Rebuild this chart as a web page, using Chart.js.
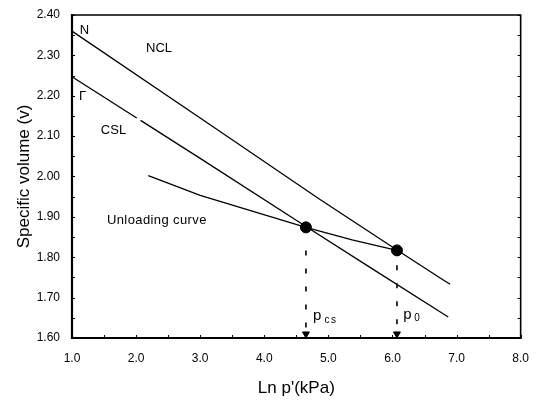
<!DOCTYPE html>
<html>
<head>
<meta charset="utf-8">
<script src="https://cdn.jsdelivr.net/npm/chart.js@4.4.1/dist/chart.umd.min.js"></script>
<style>
html,body{margin:0;padding:0;background:#fff;}
#wrap{width:542px;height:401px;}
</style>
</head>
<body>
<div id="wrap"><canvas id="c" width="542" height="401"></canvas></div>
<script>
// ---- data ----
const nclLnP = [1.0, 3.0, 4.87, 6.07, 6.75, 6.9];
const nclV   = [2.36, 2.145, 1.943, 1.818, 1.748, 1.733];
const cslLnP = [1.0, 2.01, null, 2.07, 3.0, 4.65, 5.65, 6.87];
const cslV   = [2.247, 2.145, null, 2.139, 2.045, 1.876, 1.775, 1.652];
const unlLnP = [2.19, 3.0, 4.65, 5.37, 6.07];
const unlV   = [2.002, 1.953, 1.874, 1.843, 1.817];
const stateLnP = [4.65, 6.07];          // p_cs, p_0
const stateV   = [1.874, 1.817];
const dropTopV = [1.817, 1.780];        // where the dotted drop lines begin
const xTicks = [1.0, 2.0, 3.0, 4.0, 5.0, 6.0, 7.0, 8.0];
const yTicks = [1.60, 1.70, 1.80, 1.90, 2.00, 2.10, 2.20, 2.30, 2.40];
const xTitle = "Ln p'(kPa)";
const yTitle = "Specific volume (v)";

function pts(xs, ys){ return xs.map((x,i)=> x===null ? {x:null,y:null} : {x:x, y:ys[i]}); }
const FONT = "'Liberation Sans', Arial, sans-serif";

const dropLines = [];
stateLnP.forEach((x,i)=>{
  dropLines.push({
    data:[{x:x,y:dropTopV[i]},{x:x,y:1.612}],
    showLine:true, borderColor:'#000', borderWidth:1.6, borderDash:[5,13],
    pointRadius:0, fill:false, order:3
  });
});
const arrowHeads = {
  data: stateLnP.map(x=>({x:x,y:1.610})),
  showLine:false, pointStyle:'triangle', rotation:180, pointRadius:4,
  backgroundColor:'#000', borderColor:'#000', borderWidth:1, order:2
};

const labelsPlugin = {
  id:'labels',
  afterDatasetsDraw(chart){
    const ctx = chart.ctx, xs = chart.scales.x, ys = chart.scales.y;
    const put = (t, x, y, size, sp) => {
      ctx.font = size + 'px ' + FONT;
      ctx.letterSpacing = (sp || 0) + 'px';
      ctx.fillText(t, xs.getPixelForValue(x), ys.getPixelForValue(y));
    };
    ctx.save();
    ctx.fillStyle = '#000'; ctx.textAlign = 'left'; ctx.textBaseline = 'middle';
    put('N', 1.12, 2.363, 13);
    put('NCL', 2.155, 2.316, 13);
    put('\u0393', 1.11, 2.198, 13);
    put('CSL', 1.45, 2.114, 13);
    put('Unloading curve', 1.545, 1.891, 13, 0.4);
    put('p', 4.76, 1.655, 15);
    put('cs', 4.94, 1.644, 10, 1.5);
    put('p', 6.17, 1.657, 15);
    put('0', 6.34, 1.648, 10);
    ctx.restore();
  }
};

const framePlugin = {
  id:'frame',
  afterDraw(chart){
    const ctx = chart.ctx, a = chart.chartArea, xs = chart.scales.x, ys = chart.scales.y;
    ctx.save();
    ctx.strokeStyle = '#000';
    ctx.lineWidth = 1;
    for (let v = 1.6; v <= 2.4001; v += 0.05) {
      const py = Math.round(ys.getPixelForValue(v)) + 0.5;
      ctx.beginPath(); ctx.moveTo(a.left, py); ctx.lineTo(a.left + 3, py); ctx.stroke();
      ctx.beginPath(); ctx.moveTo(a.right, py); ctx.lineTo(a.right - 3, py); ctx.stroke();
    }
    for (let v = 1.0; v <= 8.0001; v += 0.5) {
      const px = Math.round(xs.getPixelForValue(v)) + 0.5;
      ctx.beginPath(); ctx.moveTo(px, a.bottom); ctx.lineTo(px, a.bottom - 3); ctx.stroke();
    }
    ctx.lineWidth = 1.6;
    ctx.beginPath();
    ctx.moveTo(a.left, a.top); ctx.lineTo(a.right, a.top); ctx.lineTo(a.right, a.bottom);
    ctx.stroke();
    ctx.lineWidth = 2.2;
    ctx.beginPath();
    ctx.moveTo(a.left, a.top - 1); ctx.lineTo(a.left, a.bottom); ctx.lineTo(a.right + 1, a.bottom);
    ctx.stroke();
    ctx.restore();
  }
};

new Chart(document.getElementById('c'), {
  type:'scatter',
  data:{
    datasets:[
      {label:'NCL', data:pts(nclLnP,nclV), showLine:true, borderColor:'#000', borderWidth:1.3, pointRadius:0, spanGaps:false, order:4},
      {label:'CSL', data:pts(cslLnP,cslV), showLine:true, borderColor:'#000', borderWidth:1.3, pointRadius:0, spanGaps:false, order:4},
      {label:'Unloading curve', data:pts(unlLnP,unlV), showLine:true, borderColor:'#000', borderWidth:1.3, pointRadius:0, order:4},
      ...dropLines,
      arrowHeads,
      {label:'state', data:pts(stateLnP,stateV), showLine:false, pointRadius:5.5, pointStyle:'circle', backgroundColor:'#000', borderColor:'#000', order:1}
    ]
  },
  options:{
    responsive:false, animation:false,
    layout:{padding:{left:0, right:21, top:15, bottom:0}},
    plugins:{legend:{display:false}, tooltip:{enabled:false}},
    scales:{
      x:{
        type:'linear', min:1, max:8,
        afterBuildTicks(s){ s.ticks = xTicks.map(v=>({value:v})); },
        afterFit(s){ s.height = 63; },
        grid:{display:false, drawTicks:false},
        border:{display:false},
        ticks:{padding:13, color:'#000', font:{family:FONT, size:12}, callback:v=>Number(v).toFixed(1), maxRotation:0},
        title:{display:true, text:xTitle, color:'#000', font:{family:FONT, size:17}, padding:{top:0,bottom:2}}
      },
      y:{
        type:'linear', min:1.6, max:2.4,
        afterBuildTicks(s){ s.ticks = yTicks.map(v=>({value:v})); },
        afterFit(s){ s.width = 72; },
        grid:{display:false, drawTicks:false},
        border:{display:false},
        ticks:{padding:12, color:'#000', font:{family:FONT, size:12, lineHeight:0.3}, callback:v=>Number(v).toFixed(2)},
        title:{display:true, text:yTitle, color:'#000', font:{family:FONT, size:17}, padding:{top:14,bottom:0}}
      }
    }
  },
  plugins:[labelsPlugin, framePlugin]
});
</script>
</body>
</html>
